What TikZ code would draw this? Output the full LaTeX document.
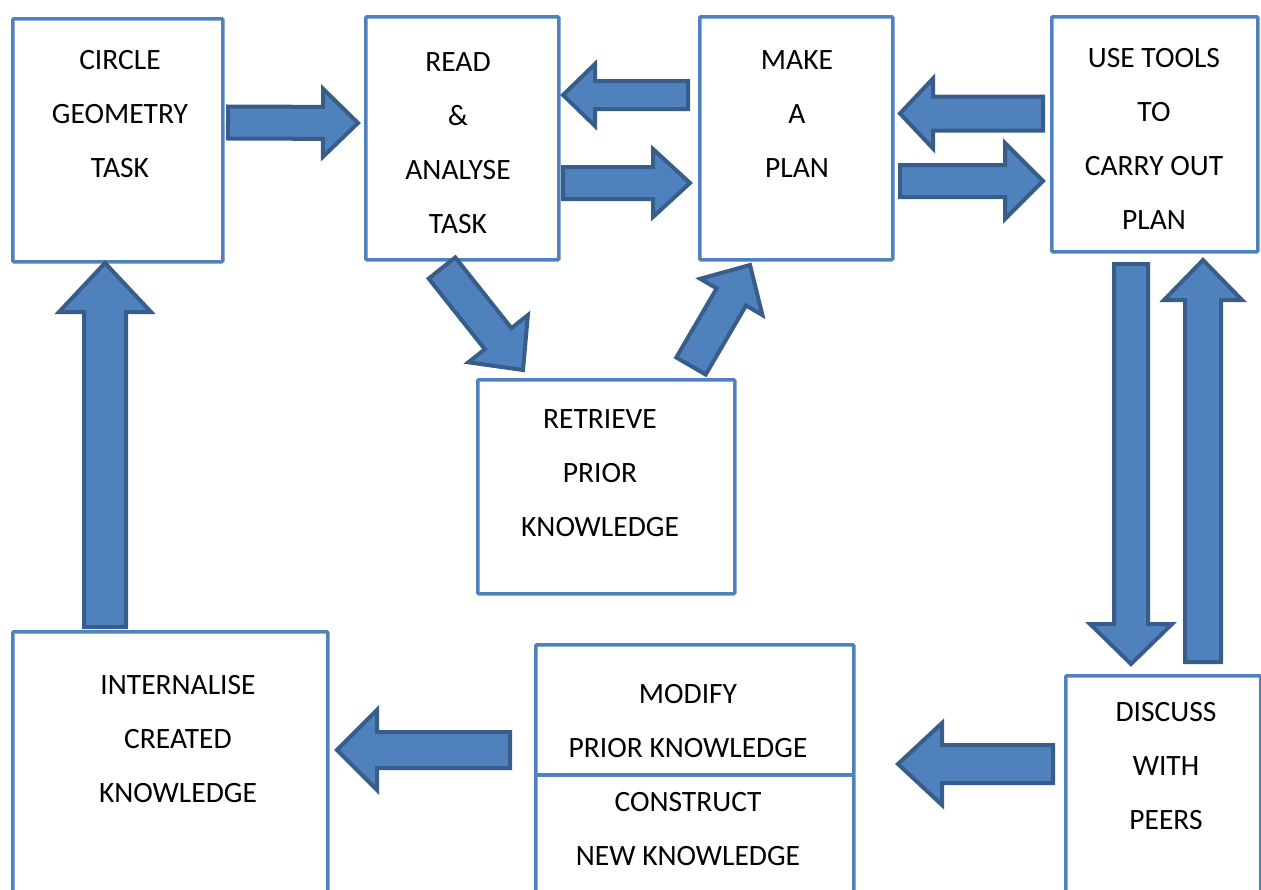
\documentclass[tikz,border=0pt]{standalone}
\usepackage{fontspec}
\setmainfont{Carlito}
\usetikzlibrary{calc}
\definecolor{boxblue}{HTML}{4F81BD}
\definecolor{arrowedge}{HTML}{385D8A}
% block arrow: tail, tip, shaft half width, head half width, head length
\newcommand{\blockarrow}[5]{%
    \coordinate (ba-base) at ($(#2)!#5!(#1)$);
    \draw[barrow] ($(#1)!#3!90:(#2)$) -- ($(ba-base)!#3!90:(#2)$)
        -- ($(ba-base)!#4!90:(#2)$) -- (#2)
        -- ($(ba-base)!#4!-90:(#2)$) -- ($(ba-base)!#3!-90:(#2)$)
        -- ($(#1)!#3!-90:(#2)$) -- cycle;
}
\begin{document}
\begin{tikzpicture}
        [x=1pt, y=-1pt,
        box/.style={draw=boxblue, line width=3.5pt, rounded corners=1pt, anchor=north west, inner sep=0pt},
        txt/.style={align=center, font=\fontsize{29.5}{54}\selectfont},
        barrow/.style={draw=arrowedge, fill=boxblue, line width=4pt, line join=miter}]
        \useasboundingbox (0,0) rectangle (1261,889);
        \clip (0,0) rectangle (1261,889);
        \node[box, minimum width=210pt, minimum height=243pt] (geom) at (11,17) {};
        \node[box, minimum width=193pt, minimum height=243pt] (read) at (364,15) {};
        \node[box, minimum width=193pt, minimum height=243pt] (plan) at (698,15) {};
        \node[box, minimum width=206pt, minimum height=235pt] (tools) at (1050,15) {};
        \node[box, minimum width=257pt, minimum height=214pt] (prior) at (476,378) {};
        \node[box, minimum width=315pt, minimum height=280pt] (intern) at (11,630) {};
        \draw[black!30, line width=2.5pt] (536,776) -- (850,776);
        \node[box, minimum width=318pt, minimum height=140pt] (constr) at (534,773) {};
        \node[box, minimum width=318pt, minimum height=130pt] (modify) at (534,643) {};
        \node[box, minimum width=195pt, minimum height=240pt] (peers) at (1064,674) {};
        \node[txt] (geomtext) at (120,114) {CIRCLE\\GEOMETRY\\TASK};
        \node[txt] (readtext) at (458,143.5) {READ\\\&\\ANALYSE\\TASK};
        \node[txt] (plantext) at (797,114) {MAKE\\A\\PLAN};
        \node[txt] (toolstext) at (1154,138.5) {USE TOOLS\\TO\\CARRY OUT\\PLAN};
        \node[txt] (priortext) at (600,473) {RETRIEVE\\PRIOR\\KNOWLEDGE};
        \node[txt] (interntext) at (178,739.5) {INTERNALISE\\CREATED\\KNOWLEDGE};
        \node[txt] (modifytext) at (688,721) {MODIFY\\PRIOR KNOWLEDGE};
        \node[txt] (constrtext) at (688,829) {CONSTRUCT\\NEW KNOWLEDGE};
        \node[txt] (peerstext) at (1166,766.5) {DISCUSS\\WITH\\PEERS};
        \coordinate (geom-read-s) at (228,122.5);
        \coordinate (geom-read-e) at (358,123);
        \coordinate (plan-read-s) at (688,95);
        \coordinate (plan-read-e) at (563,95);
        \coordinate (read-plan-s) at (563,183);
        \coordinate (read-plan-e) at (690,183);
        \coordinate (tools-plan-s) at (1043,113.5);
        \coordinate (tools-plan-e) at (900,113.5);
        \coordinate (plan-tools-s) at (900,181);
        \coordinate (plan-tools-e) at (1043,181);
        \coordinate (read-prior-s) at (442,268);
        \coordinate (read-prior-e) at (523,370);
        \coordinate (prior-plan-s) at (691,366);
        \coordinate (prior-plan-e) at (750,265);
        \coordinate (tools-peers-s) at (1131,264);
        \coordinate (tools-peers-e) at (1131,664);
        \coordinate (peers-tools-s) at (1203,662);
        \coordinate (peers-tools-e) at (1203,260);
        \coordinate (peers-modify-s) at (1053,764);
        \coordinate (peers-modify-e) at (898,764);
        \coordinate (modify-intern-s) at (510,750);
        \coordinate (modify-intern-e) at (337,750);
        \coordinate (intern-geom-s) at (105,627);
        \coordinate (intern-geom-e) at (105,263);
        \blockarrow{geom-read-s}{geom-read-e}{16pt}{34pt}{35pt}
        \blockarrow{plan-read-s}{plan-read-e}{14pt}{31pt}{32pt}
        \blockarrow{read-plan-s}{read-plan-e}{16pt}{34pt}{37pt}
        \blockarrow{tools-plan-s}{tools-plan-e}{17pt}{35pt}{33pt}
        \blockarrow{plan-tools-s}{plan-tools-e}{16pt}{38pt}{38pt}
        \blockarrow{read-prior-s}{read-prior-e}{17pt}{38pt}{40pt}
        \blockarrow{prior-plan-s}{prior-plan-e}{17pt}{36pt}{37pt}
        \blockarrow{tools-peers-s}{tools-peers-e}{17pt}{41pt}{40pt}
        \blockarrow{peers-tools-s}{peers-tools-e}{18pt}{39pt}{40pt}
        \blockarrow{peers-modify-s}{peers-modify-e}{19pt}{41pt}{44pt}
        \blockarrow{modify-intern-s}{modify-intern-e}{18pt}{40pt}{40pt}
        \blockarrow{intern-geom-s}{intern-geom-e}{21pt}{46pt}{49pt}
    \end{tikzpicture}
\end{document}
